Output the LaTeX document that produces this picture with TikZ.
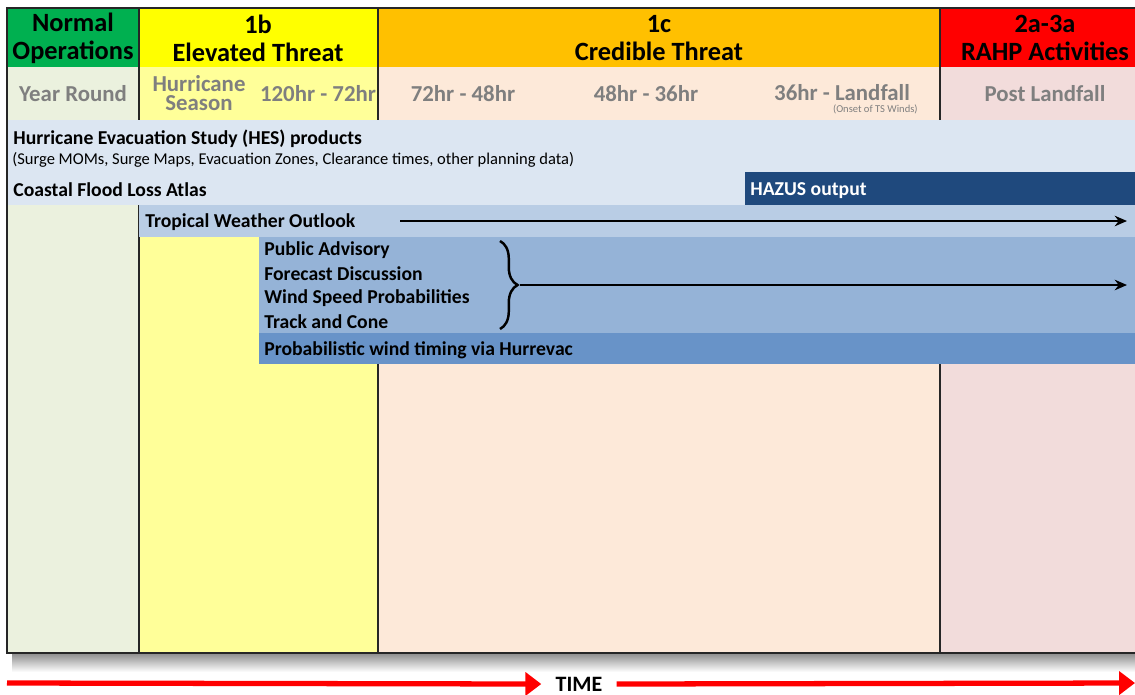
\documentclass[tikz,border=0pt]{standalone}
\usepackage{fontspec}
\setmainfont{Carlito}
\usetikzlibrary{positioning}
\usetikzlibrary{decorations.pathreplacing}
\usetikzlibrary{arrows.meta}

\definecolor{hdrgreen}{HTML}{00B050}
\definecolor{hdryellow}{HTML}{FFFF00}
\definecolor{hdrorange}{HTML}{FFC000}
\definecolor{hdrred}{HTML}{FF0000}
\definecolor{palegreen}{HTML}{EBF1DE}
\definecolor{paleyellow}{HTML}{FFFF99}
\definecolor{palepeach}{HTML}{FDE9D9}
\definecolor{palepink}{HTML}{F2DCDB}
\definecolor{hesblue}{HTML}{DCE6F2}
\definecolor{twoblue}{HTML}{B9CDE5}
\definecolor{advblue}{HTML}{95B3D7}
\definecolor{probblue}{HTML}{6893C8}
\definecolor{hazusblue}{HTML}{1F497D}
\definecolor{periodgray}{HTML}{7F7F7F}

\begin{document}
\begin{tikzpicture}[
    x=0.02cm, y=-0.02cm,
    hdr/.style={font=\fontsize{15}{16}\selectfont\bfseries, align=center, inner sep=0pt},
    period/.style={font=\fontsize{13}{15}\selectfont\bfseries, text=periodgray, align=center, inner sep=0pt},
    item/.style={font=\fontsize{11.2}{13}\selectfont\bfseries, anchor=west, inner sep=0pt},
    note/.style={font=\fontsize{9.4}{11}\selectfont, anchor=west, inner sep=0pt},
    colline/.style={line width=0.8pt, black!85},
    arrow/.style={-{Stealth[length=7pt,width=6pt]}, line width=1.1pt},
    timearrow/.style={-{Triangle[length=9pt,width=13pt]}, line width=3pt, hdrred},
    brace/.style={decorate, decoration={brace, amplitude=10pt}, line width=1.4pt}
]
  \useasboundingbox (0,0) rectangle (1135,694);

  % Shadow under the table
  \shade[top color=black!45, bottom color=white] (12,653) rectangle (1135,672);

  % Column backgrounds
  \fill[palegreen]  (7,67)   rectangle (139,653);
  \fill[paleyellow] (139,67) rectangle (378,653);
  \fill[palepeach]  (378,67) rectangle (940,653);
  \fill[palepink]   (940,67) rectangle (1135,653);

  % Header cells
  \fill[hdrgreen]  (7,8)   rectangle (139,67);
  \fill[hdryellow] (139,8) rectangle (378,67);
  \fill[hdrorange] (378,8) rectangle (940,67);
  \fill[hdrred]    (940,8) rectangle (1135,67);

  % Column borders
  \draw[colline] (139,8) -- (139,653);
  \draw[colline] (378,8) -- (378,653);
  \draw[colline] (940,8) -- (940,653);

  % Product bands
  \fill[hesblue]   (7,120)   rectangle (1135,205);
  \fill[hazusblue] (745,172) rectangle (1135,205);
  \fill[twoblue]   (139,205) rectangle (1135,237);
  \fill[advblue]   (259,237) rectangle (1135,333);
  \fill[probblue]  (259,333) rectangle (1135,364);

  % Frame
  \draw[line width=1pt, black!85] (1135,8) -- (7,8) -- (7,653) -- (1135,653);

  % Headers
  \node[hdr] (normal)   at (73,38)   {Normal\\Operations};
  \node[hdr] (elevated) at (258,38)  {1b\\Elevated Threat};
  \node[hdr] (credible) at (659,38)  {1c\\Credible Threat};
  \node[hdr] (rahp)     at (1045,38) {2a-3a\\RAHP Activities};

  % Time periods
  \node[period] (yearround) at (73,94)  {Year Round};
  \node[period, font=\fontsize{13}{11}\selectfont\bfseries] (season) at (199,93) {Hurricane\\Season};
  \node[period] (p120) at (318,94)  {120hr - 72hr};
  \node[period] (p72)  at (463,94)  {72hr - 48hr};
  \node[period] (p48)  at (646,94)  {48hr - 36hr};
  \node[period] (p36)  at (842,93)  {36hr - Landfall};
  \node[font=\fontsize{6}{7}\selectfont, text=periodgray, anchor=east, inner sep=0pt] (onset) at (918,109) {(Onset of TS Winds)};
  \node[period] (post) at (1045,94) {Post Landfall};

  % Products
  \node[item] (hes)     at (13,139) {Hurricane Evacuation Study (HES) products};
  \node[note] (hesnote) at (12,160) {(Surge MOMs, Surge Maps, Evacuation Zones, Clearance times, other planning data)};
  \node[item] (atlas)   at (13,190) {Coastal Flood Loss Atlas};
  \node[item, text=white] (hazus) at (750,191) {HAZUS output};
  \node[item] (two)     at (145,222) {Tropical Weather Outlook};
  \node[item] (pubadv)  at (264,250) {Public Advisory};
  \node[item] (fcst)    at (264,274) {Forecast Discussion};
  \node[item] (wsp)     at (264,298) {Wind Speed Probabilities};
  \node[item] (track)   at (264,322) {Track and Cone};
  \node[item] (hurrevac) at (264,350) {Probabilistic wind timing via Hurrevac};

  % Arrows
  \coordinate (twoStart) at (400,221);
  \coordinate (twoEnd)   at (1127,221);
  \draw[arrow] (twoStart) -- (twoEnd);

  \coordinate (braceTop) at (500,241);
  \coordinate (braceBot) at (500,329);
  \coordinate (braceTip) at (520,285);
  \coordinate (advEnd)   at (1127,285);
  \draw[brace] (braceTop) -- (braceBot);
  \draw[arrow] (braceTip) -- (advEnd);

  % Time axis
  \node[font=\fontsize{12.5}{14}\selectfont\bfseries, inner sep=0pt] (time) at (579,684) {TIME};
  \coordinate (timeStart) at (7,683);
  \coordinate (timeEnd)   at (1135,683);
  \draw[timearrow] (timeStart) -- ([xshift=-8pt]time.west);
  \draw[timearrow] ([xshift=8pt]time.east) -- (timeEnd);

\end{tikzpicture}
\end{document}
